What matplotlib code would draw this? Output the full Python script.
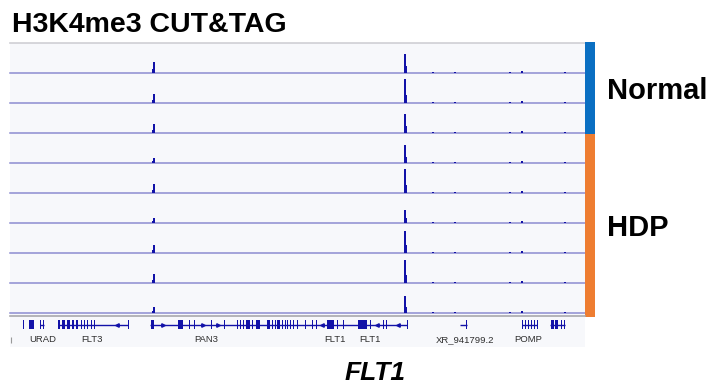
import numpy as np
import matplotlib.pyplot as plt

# figure size in pixels
W, H = 712, 385

# region shown (kb, arbitrary origin)
region = (10, 585)

# sample groups (tracks from top to bottom)
groups = ["Normal", "HDP"]
group_counts = [3, 6]
group_colors = ["#0a6fc2", "#ee7d31"]

# peaks: position (kb) and signal per track
peak_pos = [154, 405]
peak_heights = [
    [10.7, 9.3, 9.0, 5.0, 9.0, 5.0, 8.0, 9.3, 6.0],
    [19.0, 24.0, 19.0, 18.0, 24.0, 13.0, 22.0, 23.0, 17.0],
]
small_pos = [522, 433, 455, 510, 565]
small_heights = [
    [2.2, 2.0, 1.8, 2.0, 2.2, 1.6, 2.0, 2.0, 1.6],
    [1.0, 1.0, 0.8, 0.8, 1.2, 0.6, 1.0, 1.0, 0.6],
    [0.8, 0.8, 0.8, 0.6, 0.8, 0.6, 0.8, 0.6, 0.6],
    [0.8, 0.8, 0.6, 0.6, 0.8, 0.6, 0.6, 0.6, 0.6],
    [0.8, 0.8, 0.8, 0.8, 0.8, 0.6, 0.8, 0.6, 0.6],
]

# gene models: (start, end) intron line, exons as (start, width), strand arrows
gene_lines = [(40, 43.5), (58.5, 128), (150, 407), (460, 467), (522, 537), (550, 565)]
exons = [
    (23, 1.2), (29, 4.5), (39.5, 1.2), (42.8, 1.2),
    (58.3, 1.2), (62, 3), (67, 3), (71.5, 2.5), (75.5, 2), (81, 1.2), (84, 1.2),
    (87, 1.2), (90.5, 1.2), (94, 1.2), (127.5, 1.2),
    (150.5, 3.5), (178, 4.5), (189, 1.2), (194, 1.2), (211, 1.2), (223.5, 1.2),
    (237, 1.2), (240, 1.2), (243, 1.2), (246, 4), (252, 1.2), (256, 3.5),
    (267, 3), (272, 1.2), (274.5, 1.2), (277, 3), (282, 1.2), (284.5, 1.2),
    (287, 1.2), (289.5, 1.2), (293, 1.2), (297, 1.2), (305, 1.2), (312, 1.2),
    (316, 1.2), (327, 7), (337, 1.2), (343, 1.2), (358, 4.5), (363, 4),
    (370, 1.2), (383, 1.2), (386, 1.2), (406.5, 1.2),
    (466, 1.2),
    (522, 1.2), (525, 1.2), (527.7, 1.2), (531, 1.2), (533.5, 1.2), (536.5, 1.2),
    (550.5, 3.5), (555, 3.3), (560.5, 1.2), (564, 1.2),
]
arrows_plus = [163, 203, 218]
arrows_minus = [117, 322, 377, 398]
gene_names = ["URAD", "FLT3", "PAN3", "FLT1", "FLT1", "XR_941799.2", "POMP"]
gene_label_pos = [42.5, 91.5, 206.5, 334.5, 370, 465, 528]

PANEL_BG = "#f7f8fb"
BASE_COLOR = "#8c8cd0"
PEAK_COLOR = "#1212a8"


def rect(x0, y0, x1, y1):
    return [x0 / W, 1 - y1 / H, (x1 - x0) / W, (y1 - y0) / H]


fig = plt.figure(figsize=(W / 100, H / 100), dpi=100)
fig.patch.set_facecolor("white")
plt.rcParams["font.family"] = ["Liberation Sans", "DejaVu Sans"]

# background of the browser panel
bg = fig.add_axes(rect(10, 43, 585, 347))
bg.set_xlim(0, 1)
bg.set_ylim(0, 1)
bg.axis("off")
bg.add_patch(plt.Rectangle((0, 0), 1, 1, color=PANEL_BG, zorder=0))
bg.axhline(1, color="#cfcfd4", lw=1.2, clip_on=False)

n_tracks = sum(group_counts)
for i in range(n_tracks):
    top = 43 + 30 * i
    ax = fig.add_axes(rect(10, top, 585, top + 30))
    ax.set_xlim(*region)
    ax.set_ylim(0, 30)
    ax.axis("off")
    ax.axhline(0, color=BASE_COLOR, lw=1.1, clip_on=False, zorder=1)
    for p, hs in zip(peak_pos, peak_heights):
        h = hs[i]
        ax.bar(p, h, width=2.0, color=PEAK_COLOR, lw=0, zorder=3)
        side = -1.5 if p < 300 else 1.5
        ax.bar(p + side, h * 0.35, width=1.6, color=PEAK_COLOR, lw=0, zorder=3)
    for p, hs in zip(small_pos, small_heights):
        ax.bar(p, hs[i], width=1.6, color=PEAK_COLOR, lw=0, zorder=3)

# group colour bars
side = fig.add_axes(rect(585, 42, 595, 317))
bottom = n_tracks
for cnt, col in zip(group_counts, group_colors):
    bottom -= cnt
    side.bar(0, cnt, bottom=bottom, width=1, color=col, lw=0)
side.set_xlim(-0.5, 0.5)
side.set_ylim(0, n_tracks)
side.axis("off")

# group labels
start = 0
for name, cnt in zip(groups, group_counts):
    mid = 42 + (start + cnt / 2) / n_tracks * 275
    fig.text(607 / W, 1 - (mid + 11) / H, name, fontsize=21, fontweight="bold",
             ha="left", va="baseline")
    start += cnt

# gene track
gax = fig.add_axes(rect(10, 316, 585, 347))
gax.set_xlim(*region)
gax.set_ylim(31, 0)
gax.axis("off")
gax.axhline(0, color="#a8a8ac", lw=1.2, clip_on=False)
for s, e in gene_lines:
    gax.plot([s, e], [8.5, 8.5], color=PEAK_COLOR, lw=1.0, solid_capstyle="butt")
gax.broken_barh(exons, (4, 9), color=PEAK_COLOR, lw=0)
gax.plot(arrows_plus, [8.5] * len(arrows_plus), ls="none", marker=">",
         ms=2.5, color=PEAK_COLOR)
gax.plot(arrows_minus, [8.5] * len(arrows_minus), ls="none", marker="<",
         ms=2.5, color=PEAK_COLOR)
for name, pos in zip(gene_names, gene_label_pos):
    gax.text(pos, 26.5, name, fontsize=6.8, color="#2e2e2e", ha="center",
             va="baseline")
gax.vlines(11, 21, 27, color="#999999", lw=0.8)

# titles
fig.text(12 / W, 1 - 31.7 / H, "H3K4me3 CUT&TAG", fontsize=20.5,
         fontweight="bold", ha="left", va="baseline")
fig.text(345 / W, 1 - 380 / H, "FLT1", fontsize=19, fontweight="bold",
         fontstyle="italic", ha="left", va="baseline")

fig.savefig("out.png", dpi=100)
